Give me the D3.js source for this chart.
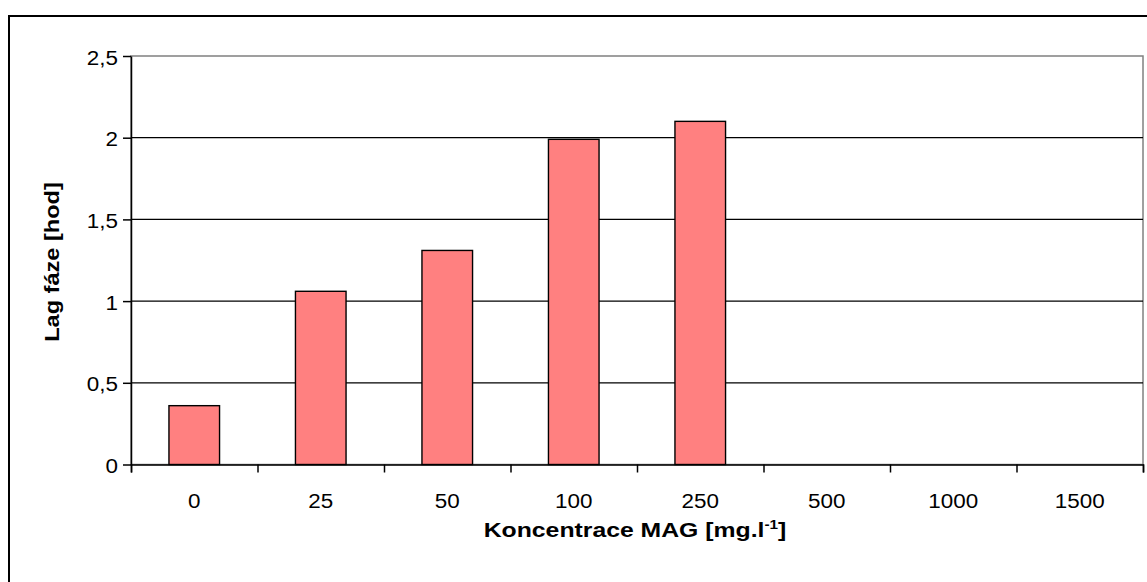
<!DOCTYPE html>
<html>
<head>
<meta charset="utf-8">
<script src="https://cdn.jsdelivr.net/npm/d3@7"></script>
<style>
  html, body { margin: 0; padding: 0; background: #fff; overflow: hidden; }
  svg { display: block; }
  text { font-family: "Liberation Sans", Arial, Helvetica, sans-serif; fill: #000; }
</style>
</head>
<body>
<svg id="chart" width="1147" height="582"></svg>
<script>
// Lag phase duration for each MAG concentration
const categories = ["0", "25", "50", "100", "250", "500", "1000", "1500"];
const lagPhase = [0.36, 1.06, 1.31, 1.99, 2.10, null, null, null];
const yTicks = [0, 0.5, 1, 1.5, 2, 2.5];
const yTitle = "Lag fáze [hod]";
const xTitle = "Koncentrace MAG [mg.l";
const xTitleSup = "-1";

const svg = d3.select("#chart");
const W = 1147, H = 582;
const plot = { left: 131, right: 1143, top: 56, bottom: 464.5 };
const stretch = 1.15; // glyphs are drawn a little wide

// outer chart frame
svg.append("rect")
  .attr("x", 9).attr("y", 16)
  .attr("width", W + 40).attr("height", H + 40)
  .attr("fill", "#fff").attr("stroke", "#000").attr("stroke-width", 2);

const x = d3.scaleBand().domain(categories).range([plot.left, plot.right]).paddingInner(0).paddingOuter(0);
const xb = d3.scaleLinear().domain([0, categories.length]).range([plot.left, plot.right]);
const y = d3.scaleLinear().domain([0, 2.5]).range([plot.bottom, plot.top]);

// plot area border (top and right in grey)
svg.append("rect")
  .attr("x", plot.left).attr("y", plot.top)
  .attr("width", plot.right - plot.left).attr("height", plot.bottom - plot.top)
  .attr("fill", "#fff").attr("stroke", "#808080").attr("stroke-width", 1.5);

// horizontal gridlines
svg.append("g").selectAll("line")
  .data(yTicks.filter(d => d > 0 && d < 2.5))
  .join("line")
  .attr("x1", plot.left).attr("x2", plot.right)
  .attr("y1", d => y(d)).attr("y2", d => y(d))
  .attr("stroke", "#000").attr("stroke-width", 1.2);

// bars
const barW = x.bandwidth() / 2.5;
svg.append("g").selectAll("rect")
  .data(categories.map((c, i) => ({ c, v: lagPhase[i] })).filter(d => d.v != null))
  .join("rect")
  .attr("x", d => x(d.c) + (x.bandwidth() - barW) / 2)
  .attr("width", barW)
  .attr("y", d => y(d.v))
  .attr("height", d => y(0) - y(d.v))
  .attr("fill", "#FF8080")
  .attr("stroke", "#000").attr("stroke-width", 1.4);

// y axis
const yAxis = svg.append("g")
  .attr("transform", `translate(${plot.left},0)`)
  .call(d3.axisLeft(y).tickValues(yTicks).tickSize(8).tickSizeOuter(0).tickPadding(5)
    .tickFormat(d => String(d).replace(".", ",")));
yAxis.select(".domain").attr("stroke", "#000").attr("stroke-width", 1.5);
yAxis.selectAll(".tick line").attr("stroke", "#000").attr("stroke-width", 1.5);
yAxis.selectAll(".tick text")
  .attr("font-size", 19.5)
  .attr("x", -13 / stretch)
  .attr("dy", "0.42em")
  .attr("transform", `scale(${stretch},1)`);

// x axis: category boundary ticks
const xTickAxis = svg.append("g")
  .attr("transform", `translate(0,${plot.bottom})`)
  .call(d3.axisBottom(xb).ticks(categories.length).tickSize(8).tickSizeOuter(8).tickFormat(""));
xTickAxis.select(".domain").attr("stroke", "#000").attr("stroke-width", 1.5);
xTickAxis.selectAll(".tick line").attr("stroke", "#000").attr("stroke-width", 1.5);

// x axis: category labels
const xLabelAxis = svg.append("g")
  .attr("transform", `translate(0,${plot.bottom})`)
  .call(d3.axisBottom(x).tickSize(0).tickPadding(30));
xLabelAxis.select(".domain").remove();
xLabelAxis.selectAll(".tick text")
  .attr("font-size", 19.5)
  .attr("transform", `scale(${stretch},1)`);

// axis titles
svg.append("text")
  .attr("transform", `translate(59,262) rotate(-90) scale(1.15,1)`)
  .attr("text-anchor", "middle")
  .attr("font-size", 20.5).attr("font-weight", "bold")
  .text(yTitle);

const xt = svg.append("text")
  .attr("transform", `translate(${(plot.left + plot.right) / 2 - 2},537) scale(1.18,1)`)
  .attr("text-anchor", "middle")
  .attr("font-size", 21).attr("font-weight", "bold");
xt.append("tspan").text(xTitle);
xt.append("tspan").attr("font-size", 13).attr("dy", -8).text(xTitleSup);
xt.append("tspan").attr("dy", 8).text("]");
</script>
</body>
</html>
